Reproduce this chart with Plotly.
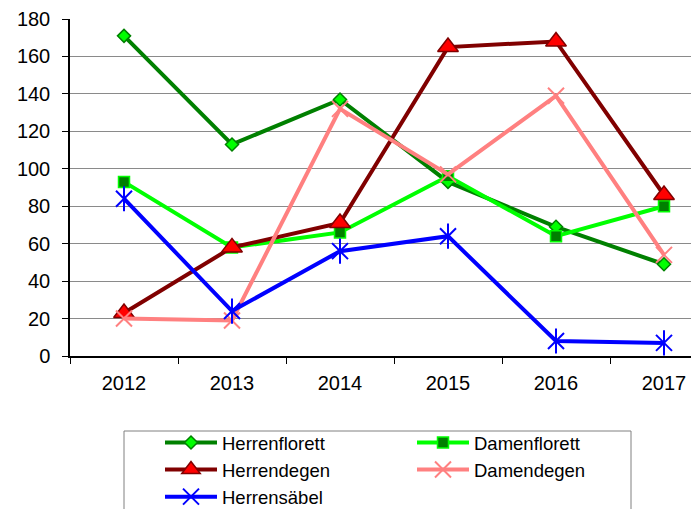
import plotly.graph_objects as go

years = ["2012", "2013", "2014", "2015", "2016", "2017"]
herrenflorett = [171, 113, 137, 93, 69, 49]
damenflorett = [93, 58, 66, 96, 64, 80]
herrendegen = [23, 58, 71, 165, 168, 86]
damendegen = [20, 19, 132, 97, 139, 54]
herrensaebel = [84, 24, 56, 64, 8, 7]

# the page body has an 8px margin, so the figure starts at (8, 8) in the window
OFF = 8
W, H = 699 - OFF, 509 - OFF
ML, MR, MT, MB = 70 - OFF, 0, 19 - OFF, 153
pw = W - ML - MR
ph = H - MT - MB

def px_x(p):
    return (p - OFF - ML) / pw

def px_y(p):
    return (H - MB - (p - OFF)) / ph

fig = go.Figure()
series = [
    ("Herrenflorett", herrenflorett, "#008000", dict(symbol="diamond", size=10, color="#00FF00", line=dict(color="#008000", width=1.5))),
    ("Damenflorett", damenflorett, "#00FF00", dict(symbol="square", size=11, color="#008000", line=dict(color="#00FF00", width=1.5))),
    ("Herrendegen", herrendegen, "#800000", dict(symbol="triangle-up", size=18, color="#FF0000", line=dict(color="#800000", width=1.5))),
    ("Damendegen", damendegen, "#FF8080", dict(symbol="x-thin", size=16, color="#FF8080", line=dict(color="#FF8080", width=2))),
    ("Herrensäbel", herrensaebel, "#0000FF", dict(symbol="x-thin", size=16, color="#0000FF", line=dict(color="#0000FF", width=2))),
]
for name, vals, col, mk in series:
    fig.add_trace(go.Scatter(x=years, y=vals, name=name, mode="lines+markers",
                             line=dict(color=col, width=4), marker=mk, legendgroup=name))

# vertical stroke of the Herrensäbel star marker
fig.add_trace(go.Scatter(x=years, y=herrensaebel, name="Herrensäbel", mode="markers",
                         showlegend=False, legendgroup="Herrensäbel",
                         marker=dict(symbol="line-ns", size=18, color="#0000FF",
                                     line=dict(color="#0000FF", width=2))))

fig.add_shape(type="rect", xref="paper", yref="paper",
              x0=px_x(124), x1=px_x(631), y0=px_y(540), y1=px_y(431),
              line=dict(color="#808080", width=1), fillcolor="rgba(0,0,0,0)")

fig.update_layout(
    width=W, height=H,
    margin=dict(l=ML, r=MR, t=MT, b=MB, autoexpand=False),
    paper_bgcolor="white", plot_bgcolor="white",
    font=dict(family="Liberation Sans, Arial, sans-serif", size=20, color="black"),
    showlegend=True,
    legend=dict(orientation="h", x=px_x(160), y=px_y(424), xanchor="left", yanchor="top",
                itemwidth=52, entrywidth=185, entrywidthmode="pixels",
                font=dict(size=18.5), bgcolor="rgba(0,0,0,0)", borderwidth=0,
                tracegroupgap=0, itemclick=False),
    xaxis=dict(type="category", range=[-0.5, -0.5 + pw / 108.0], tickson="boundaries",
               ticks="outside", ticklen=6, tickcolor="black", showline=True,
               linecolor="black", linewidth=1.5, showgrid=False, zeroline=False,
               ticklabelstandoff=8),
    yaxis=dict(range=[0, 180], dtick=20, ticks="outside", ticklen=6, tickcolor="black",
               showline=True, linecolor="black", linewidth=1.5, showgrid=True,
               gridcolor="#8a8a8a", gridwidth=1, zeroline=False, ticklabelstandoff=8),
)

fig.write_html("out.html")
